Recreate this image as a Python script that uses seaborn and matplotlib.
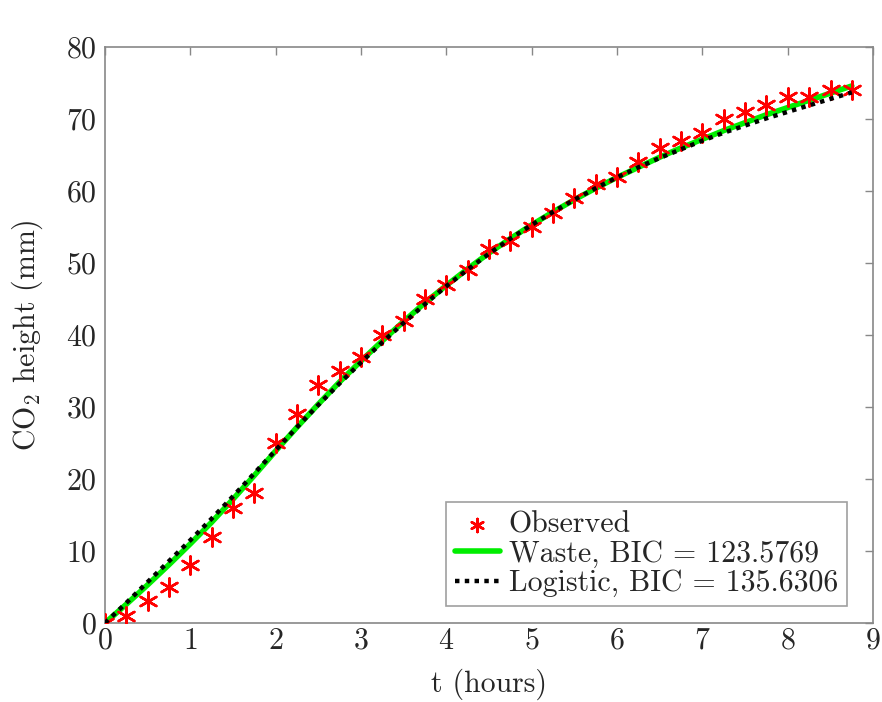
import numpy as np
import matplotlib
matplotlib.use("Agg")
import matplotlib.pyplot as plt
import seaborn as sns

# observed CO2 height, every 15 minutes
t_obs = [0, 0.25, 0.5, 0.75, 1.0, 1.25, 1.5, 1.75, 2.0, 2.25, 2.5, 2.75,
         3.0, 3.25, 3.5, 3.75, 4.0, 4.25, 4.5, 4.75, 5.0, 5.25, 5.5, 5.75,
         6.0, 6.25, 6.5, 6.75, 7.0, 7.25, 7.5, 7.75, 8.0, 8.25, 8.5, 8.75]
h_obs = [0, 1, 3, 5, 8, 12, 16, 18, 25, 29, 33, 35,
         37, 40, 42, 45, 47, 49, 52, 53, 55, 57, 59, 61,
         62, 64, 66, 67, 68, 70, 71, 72, 73, 73, 74, 74]

# fitted curves, read at the same times
h_waste = [0, 2.6, 5.3, 8.1, 11.0, 14.0, 17.2, 20.5, 23.9, 27.2, 30.4, 33.5,
           36.4, 39.2, 41.9, 44.5, 46.9, 49.2, 51.4, 53.4, 55.3, 57.1, 58.8, 60.4,
           61.9, 63.3, 64.7, 66.0, 67.2, 68.4, 69.5, 70.6, 71.6, 72.6, 73.6, 74.6]
h_logistic = [0, 2.8, 5.7, 8.6, 11.5, 14.5, 17.6, 20.8, 24.0, 27.2, 30.3, 33.3,
              36.2, 39.0, 41.7, 44.3, 46.8, 49.1, 51.3, 53.4, 55.3, 57.1, 58.8, 60.4,
              61.9, 63.3, 64.6, 65.8, 67.0, 68.1, 69.1, 70.1, 71.0, 71.9, 72.8, 73.7]

bic_waste = 123.5769
bic_logistic = 135.6306

sns.set_style("white")
plt.rcParams["font.family"] = ["cmr10", "DejaVu Serif"]
plt.rcParams["mathtext.fontset"] = "cm"
plt.rcParams["axes.unicode_minus"] = False
plt.rcParams["axes.formatter.use_mathtext"] = True

FS = 21.5
fig = plt.figure(figsize=(8.82, 7.02), dpi=100)
ax = fig.add_axes([0.119, 0.1125, 0.871, 0.8205])

sns.scatterplot(x=t_obs, y=h_obs, ax=ax, marker=(6, 2, 0), s=170,
                color="red", linewidth=1.8, label="Observed", zorder=3)
sns.lineplot(x=t_obs, y=h_waste, ax=ax, color="#00ee00", lw=4,
             label=f"Waste, BIC = {bic_waste:.4f}", zorder=2)
sns.lineplot(x=t_obs, y=h_logistic, ax=ax, color="black", lw=3.2,
             linestyle=(0, (1, 1.2)), label=f"Logistic, BIC = {bic_logistic:.4f}", zorder=4)

ax.set_xlim(0, 9)
ax.set_ylim(0, 80)
ax.set_xticks(range(0, 10))
ax.set_yticks(range(0, 81, 10))
ax.set_xlabel("t (hours)", fontsize=FS, labelpad=10)
ax.set_ylabel(r"CO$_2$ height (mm)", fontsize=FS, labelpad=15)
ax.tick_params(direction="in", length=6, width=1, color="#888888",
               labelsize=FS, top=True, right=True)
ax.tick_params(axis="x", pad=3)
ax.tick_params(axis="y", pad=6)
for s in ax.spines.values():
    s.set_color("#888888")
    s.set_linewidth(1.2)

leg = ax.legend(loc="lower right", bbox_to_anchor=(0.966, 0.0295), borderaxespad=0,
                fontsize=FS, frameon=True, fancybox=False, edgecolor="#888888",
                handlelength=1.5, handletextpad=0.3, borderpad=0.3, labelspacing=0.05)
leg.get_frame().set_linewidth(1.2)
leg.legend_handles[0].set_sizes([90])

plt.savefig("out.png", dpi=100)
